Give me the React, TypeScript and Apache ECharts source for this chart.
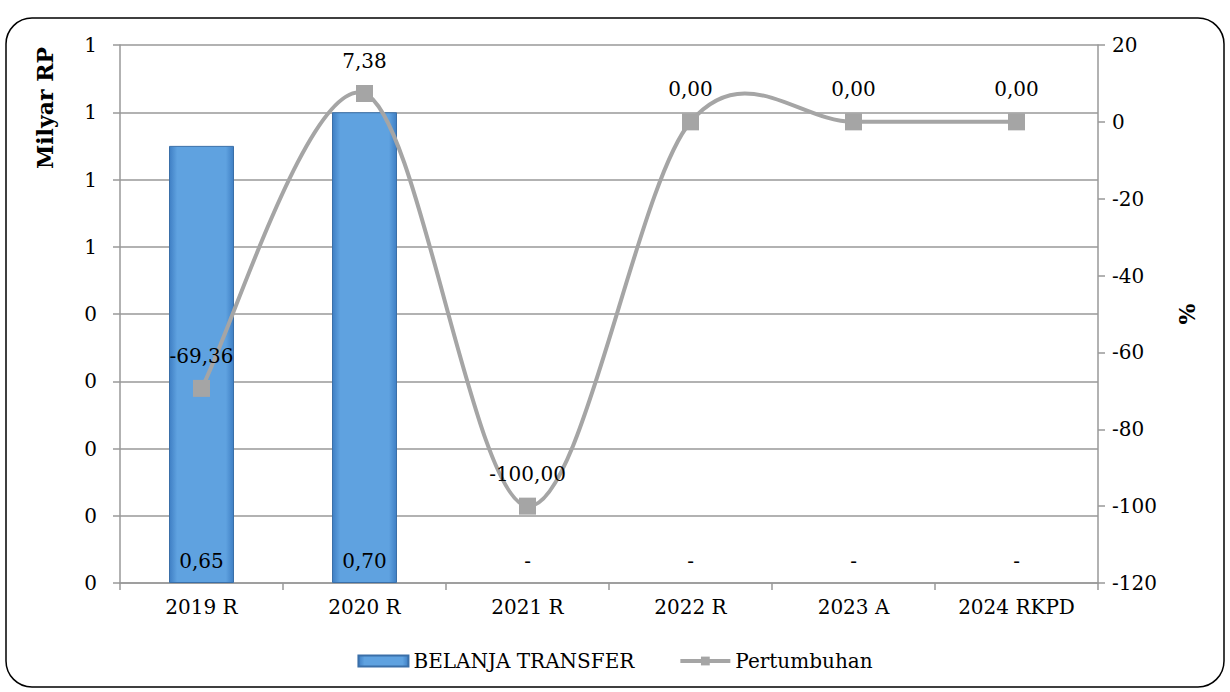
import React, { useEffect, useRef } from "react";
import * as echarts from "echarts";

const categories = ["2019 R", "2020 R", "2021 R", "2022 R", "2023 A", "2024 RKPD"];
const belanjaTransfer = [0.65, 0.7, 0, 0, 0, 0];
const pertumbuhan = [-69.36, 7.38, -100.0, 0.0, 0.0, 0.0];

const FONT = "'DejaVu Serif', 'Liberation Serif', serif";
const FS = 20;
const fmt = (v: number) => v.toFixed(2).replace(".", ",");

export default function App() {
  const ref = useRef<HTMLDivElement>(null);
  useEffect(() => {
    const chart = echarts.init(ref.current!, null, { renderer: "svg" });
    const barGrad = new echarts.graphic.LinearGradient(0, 0, 1, 0, [
      { offset: 0, color: "#3f7fc4" },
      { offset: 0.12, color: "#5fa2e0" },
      { offset: 0.88, color: "#5fa2e0" },
      { offset: 1, color: "#3f7fc4" },
    ]);
    const n = pertumbuhan.length;
    chart.setOption({
      animation: false,
      textStyle: { fontFamily: FONT, color: "#000" },
      grid: { left: 120, right: 132, top: 45, bottom: 109 },
      legend: {
        bottom: 16,
        left: "center",
        itemGap: 44,
        itemWidth: 50,
        itemHeight: 11,
        textStyle: { fontFamily: FONT, fontSize: FS, color: "#000" },
        data: [
          { name: "BELANJA TRANSFER", icon: "rect" },
          {
            name: "Pertumbuhan",
            lineStyle: { color: "#a5a5a5", width: 4, opacity: 1 },
          },
        ],
      },
      xAxis: {
        type: "category",
        data: categories,
        axisLine: { lineStyle: { color: "#999", width: 1.5 } },
        axisTick: { show: true, length: 7, lineStyle: { color: "#999", width: 1.5 } },
        axisLabel: { color: "#000", fontSize: FS, fontFamily: FONT, margin: 14 },
      },
      yAxis: [
        {
          type: "value",
          min: 0,
          max: 0.8,
          interval: 0.1,
          axisLine: { show: true, lineStyle: { color: "#999", width: 1.5 } },
          axisTick: { show: true, length: 7, lineStyle: { color: "#999", width: 1.5 } },
          axisLabel: {
            color: "#000",
            fontSize: FS,
            fontFamily: FONT,
            margin: 23,
            formatter: (v: number) => String(Math.round(v + 1e-9)),
          },
          splitLine: { show: true, lineStyle: { color: "#999", width: 1.5 } },
        },
        {
          type: "value",
          min: -120,
          max: 20,
          interval: 20,
          position: "right",
          axisLine: { show: true, lineStyle: { color: "#999", width: 1.5 } },
          axisTick: { show: true, length: 7, lineStyle: { color: "#999", width: 1.5 } },
          axisLabel: { color: "#000", fontSize: FS, fontFamily: FONT, margin: 14 },
          splitLine: { show: false },
        },
      ],
      series: [
        {
          name: "BELANJA TRANSFER",
          type: "bar",
          data: belanjaTransfer.map((v) =>
            v === 0 ? { value: v, itemStyle: { borderWidth: 0, opacity: 0 } } : v
          ),
          yAxisIndex: 0,
          barWidth: 65,
          itemStyle: { color: barGrad, borderColor: "#3a6fa8", borderWidth: 1 },
          label: {
            show: true,
            position: "insideBottom",
            distance: 12,
            fontSize: FS,
            fontFamily: FONT,
            color: "#000",
            opacity: 1,
            formatter: (p: any) => (p.value === 0 ? "-" : fmt(p.value)),
          },
          z: 2,
        },
        {
          name: "Pertumbuhan",
          type: "line",
          data: pertumbuhan,
          yAxisIndex: 1,
          symbol: "rect",
          symbolSize: 17,
          lineStyle: { color: "#a5a5a5", width: 4, opacity: 0 },
          itemStyle: { color: "#a5a5a5" },
          label: {
            show: true,
            position: "top",
            distance: 14,
            fontSize: FS,
            fontFamily: FONT,
            color: "#000",
            formatter: (p: any) => fmt(p.value),
          },
          z: 4,
        },
        {
          name: "Pertumbuhan curve",
          type: "custom",
          yAxisIndex: 1,
          data: pertumbuhan.map((v, i) => [i, v]),
          encode: { x: 0, y: 1 },
          silent: true,
          z: 3,
          renderItem: (params: any, api: any) => {
            const i = params.dataIndex;
            if (i >= n - 1) return null;
            const P = pertumbuhan.map((v, k) => api.coord([k, v]));
            const p0 = P[Math.max(i - 1, 0)];
            const p1 = P[i];
            const p2 = P[i + 1];
            const p3 = P[Math.min(i + 2, n - 1)];
            const k = 1 / 6;
            return {
              type: "bezierCurve",
              shape: {
                x1: p1[0],
                y1: p1[1],
                cpx1: p1[0] + (p2[0] - p0[0]) * k,
                cpy1: p1[1] + (p2[1] - p0[1]) * k,
                cpx2: p2[0] - (p3[0] - p1[0]) * k,
                cpy2: p2[1] - (p3[1] - p1[1]) * k,
                x2: p2[0],
                y2: p2[1],
              },
              style: { stroke: "#a5a5a5", lineWidth: 4, fill: "none" },
            };
          },
        },
      ],
      graphic: [
        {
          type: "rect",
          shape: { x: 6, y: 18, width: 1218, height: 669, r: 26 },
          style: { fill: "none", stroke: "#000", lineWidth: 1.5 },
          silent: true,
        },
        {
          type: "text",
          x: 45,
          y: 108,
          rotation: Math.PI / 2,
          style: {
            text: "Milyar RP",
            font: `bold 22px ${FONT}`,
            fill: "#000",
            align: "center",
            verticalAlign: "middle",
          },
        },
        {
          type: "text",
          x: 1187,
          y: 314,
          rotation: Math.PI / 2,
          style: {
            text: "%",
            font: `bold 22px ${FONT}`,
            fill: "#000",
            align: "center",
            verticalAlign: "middle",
          },
        },
      ],
    });
    return () => chart.dispose();
  }, []);
  return (
    <div
      ref={ref}
      style={{ position: "fixed", left: 0, top: 0, width: 1230, height: 692, background: "#fff" }}
    />
  );
}
